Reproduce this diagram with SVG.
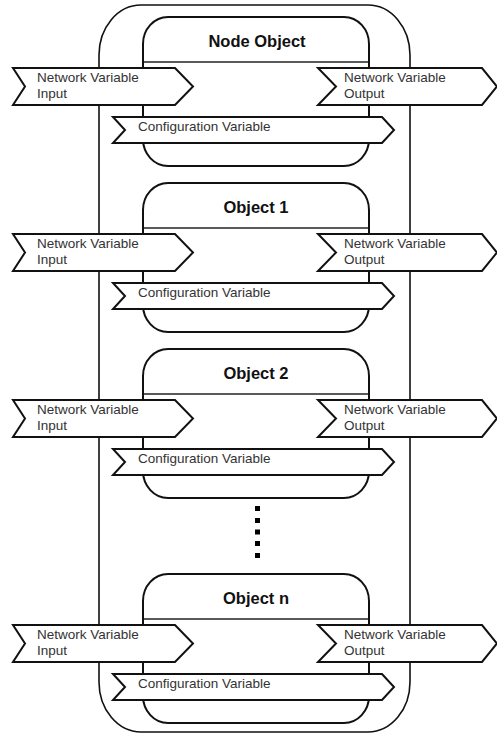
<svg xmlns="http://www.w3.org/2000/svg" width="497" height="734" viewBox="0 0 497 734">
<style>
.outer{fill:#fff;stroke:#111;stroke-width:1.6}
.box{fill:#fff;stroke:#111;stroke-width:2}
.hdr{stroke:#222;stroke-width:1.5}
.arr{fill:#fff;stroke:#111;stroke-width:2;stroke-linejoin:miter}
.title{font-family:"Liberation Sans",Arial,sans-serif;font-weight:bold;font-size:16.5px;fill:#111;text-anchor:middle}
.lbl{font-family:"Liberation Sans",Arial,sans-serif;font-size:13.5px;fill:#333}
.dot{fill:#000}
</style>
<defs>
<g id="blk">
<rect class="box" x="143" y="0" width="226" height="149" rx="25" ry="27"/>
<line class="hdr" x1="144" y1="45" x2="368" y2="45"/>
<polygon class="arr" points="13,51 175,51 193,69.5 175,88 13,88 25,69.5"/>
<polygon class="arr" points="318,51 482,51 497,69.5 482,88 318,88 336,69.5"/>
<polygon class="arr" points="113,100 382,100 394,113 382,126 113,126 125,113"/>
<text class="lbl" x="37" y="65">Network Variable</text>
<text class="lbl" x="37" y="81">Input</text>
<text class="lbl" x="344" y="65">Network Variable</text>
<text class="lbl" x="344" y="81">Output</text>
<text class="lbl" x="138" y="114">Configuration Variable</text>
</g>
</defs>
<g id="container">
<rect class="outer" x="99" y="5" width="311" height="727" rx="42" ry="50"/>
</g>
<g id="node-object">
<use href="#blk" transform="translate(0,17)"/>
<text class="title" x="257" y="47">Node Object</text>
</g>
<g id="object-1">
<use href="#blk" transform="translate(0,183)"/>
<text class="title" x="256" y="213">Object 1</text>
</g>
<g id="object-2">
<use href="#blk" transform="translate(0,349)"/>
<text class="title" x="256" y="379">Object 2</text>
</g>
<g id="ellipsis">
<rect class="dot" x="255" y="506" width="5" height="5"/>
<rect class="dot" x="255" y="518" width="5" height="5"/>
<rect class="dot" x="255" y="529.5" width="5" height="5"/>
<rect class="dot" x="255" y="541" width="5" height="5"/>
<rect class="dot" x="255" y="553" width="5" height="5"/>
</g>
<g id="object-n">
<use href="#blk" transform="translate(0,574)"/>
<text class="title" x="256" y="604">Object n</text>
</g>
</svg>
